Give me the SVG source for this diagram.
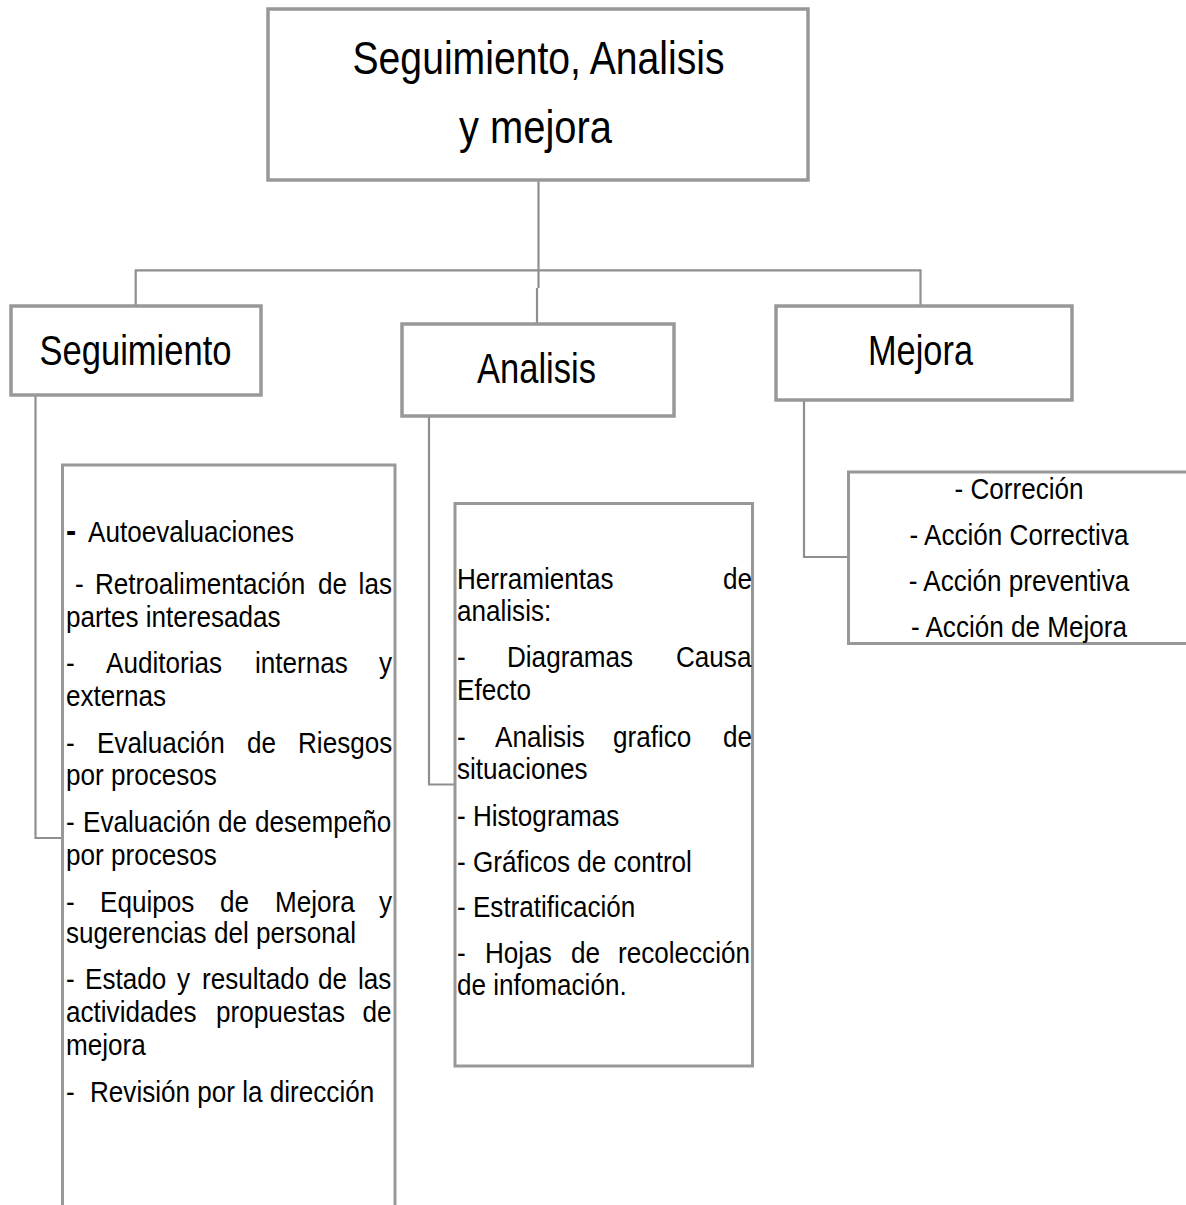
<svg xmlns="http://www.w3.org/2000/svg" width="1186" height="1205" viewBox="0 0 1186 1205">
<style>
.box{fill:#ffffff;stroke:#989898;stroke-width:3.5}
.lbox{fill:#ffffff;stroke:#989898;stroke-width:3}
.conn{fill:none;stroke:#8f8f8f;stroke-width:2.2}
.t{font-family:"Liberation Sans",Arial,sans-serif;fill:#000000}
.title{font-size:46px}
.lab{font-size:42px}
.li{font-size:29px}
.mid{text-anchor:middle}
</style>
<rect width="1186" height="1205" fill="#ffffff"/>
<g id="connectors">
<path class="conn" d="M538.5,181 V288 M537,288 V323"/>
<path class="conn" d="M135.7,305 V270.3 H920.5 V305"/>
<path class="conn" d="M35.5,396 V838 H62"/>
<path class="conn" d="M429,417 V784.5 H455"/>
<path class="conn" d="M804,401 V557 H848"/>
</g>
<g id="node-root">
<rect class="box" x="268" y="9" width="540" height="171"/>
<text class="t title" x="352.5" y="74" textLength="372" lengthAdjust="spacingAndGlyphs">Seguimiento, Analisis</text>
<text class="t title" x="459" y="143" textLength="153" lengthAdjust="spacingAndGlyphs">y mejora</text>
</g>
<g id="node-seguimiento">
<rect class="box" x="11" y="306" width="250" height="89"/>
<text class="t lab" x="39.5" y="365" textLength="192" lengthAdjust="spacingAndGlyphs">Seguimiento</text>
</g>
<g id="node-analisis">
<rect class="box" x="402" y="324" width="272" height="92"/>
<text class="t lab" x="477" y="383" textLength="119" lengthAdjust="spacingAndGlyphs">Analisis</text>
</g>
<g id="node-mejora">
<rect class="box" x="776" y="306" width="296" height="94"/>
<text class="t lab" x="868" y="365" textLength="105" lengthAdjust="spacingAndGlyphs">Mejora</text>
</g>
<g id="node-seguimiento-list">
<rect class="lbox" x="62.5" y="465" width="332.5" height="800"/>
<g transform="scale(0.9 1)">
<text class="t" x="73.33" y="542" font-size="34" font-weight="bold">-</text>
<text class="t li" x="97.78" y="542">Autoevaluaciones</text>
<text class="t li" y="594"><tspan x="83.33">-</tspan><tspan x="105.56">Retroalimentación</tspan><tspan x="353.33">de</tspan><tspan x="398.44">las</tspan></text>
<text class="t li" x="73.33" y="627">partes interesadas</text>
<text class="t li" y="673"><tspan x="73.33">-</tspan><tspan x="117.78">Auditorias</tspan><tspan x="283.33">internas</tspan><tspan x="421.11">y</tspan></text>
<text class="t li" x="73.33" y="706">externas</text>
<text class="t li" y="753"><tspan x="73.33">-</tspan><tspan x="107.78">Evaluación</tspan><tspan x="274.44">de</tspan><tspan x="331.11">Riesgos</tspan></text>
<text class="t li" x="73.33" y="785">por procesos</text>
<text class="t li" y="832"><tspan x="73.33">-</tspan><tspan x="92.22">Evaluación</tspan><tspan x="242.22">de</tspan><tspan x="283.33">desempeño</tspan></text>
<text class="t li" x="73.33" y="865">por procesos</text>
<text class="t li" y="912"><tspan x="73.33">-</tspan><tspan x="111.11">Equipos</tspan><tspan x="244.44">de</tspan><tspan x="305.56">Mejora</tspan><tspan x="421.11">y</tspan></text>
<text class="t li" x="73.33" y="943">sugerencias del personal</text>
<text class="t li" y="989"><tspan x="73.33">-</tspan><tspan x="94.44">Estado</tspan><tspan x="196.67">y</tspan><tspan x="224.44">resultado</tspan><tspan x="353.33">de</tspan><tspan x="397.78">las</tspan></text>
<text class="t li" y="1022"><tspan x="73.33">actividades</tspan><tspan x="240">propuestas</tspan><tspan x="402.78">de</tspan></text>
<text class="t li" x="73.33" y="1055">mejora</text>
<text class="t li" y="1102"><tspan x="73.33">-</tspan><tspan x="100">Revisión por la dirección</tspan></text>
</g>
</g>
<g id="node-analisis-list">
<rect class="lbox" x="455" y="503.5" width="297.5" height="562.5"/>
<g transform="scale(0.9 1)">
<text class="t li" y="589"><tspan x="507.78">Herramientas</tspan><tspan x="803.33">de</tspan></text>
<text class="t li" x="507.78" y="621">analisis:</text>
<text class="t li" y="667"><tspan x="507.78">-</tspan><tspan x="563.33">Diagramas</tspan><tspan x="751.11">Causa</tspan></text>
<text class="t li" x="507.78" y="700">Efecto</text>
<text class="t li" y="747"><tspan x="507.78">-</tspan><tspan x="550">Analisis</tspan><tspan x="681.11">grafico</tspan><tspan x="803.33">de</tspan></text>
<text class="t li" x="507.78" y="779">situaciones</text>
<text class="t li" x="507.78" y="826">- Histogramas</text>
<text class="t li" x="507.78" y="872">- Gráficos de control</text>
<text class="t li" x="507.78" y="917">- Estratificación</text>
<text class="t li" y="963"><tspan x="507.78">-</tspan><tspan x="538.89">Hojas</tspan><tspan x="634.44">de</tspan><tspan x="686.67">recolección</tspan></text>
<text class="t li" x="507.78" y="995">de infomación.</text>
</g>
</g>
<g id="node-mejora-list">
<rect class="lbox" x="848.5" y="472" width="345" height="171.5"/>
<g transform="scale(0.9 1)">
<text class="t li mid" x="1132.22" y="499">- Correción</text>
<text class="t li mid" x="1132.22" y="545">- Acción Correctiva</text>
<text class="t li mid" x="1132.22" y="591">- Acción preventiva</text>
<text class="t li mid" x="1132.22" y="637">- Acción de Mejora</text>
</g>
</g>
</svg>
